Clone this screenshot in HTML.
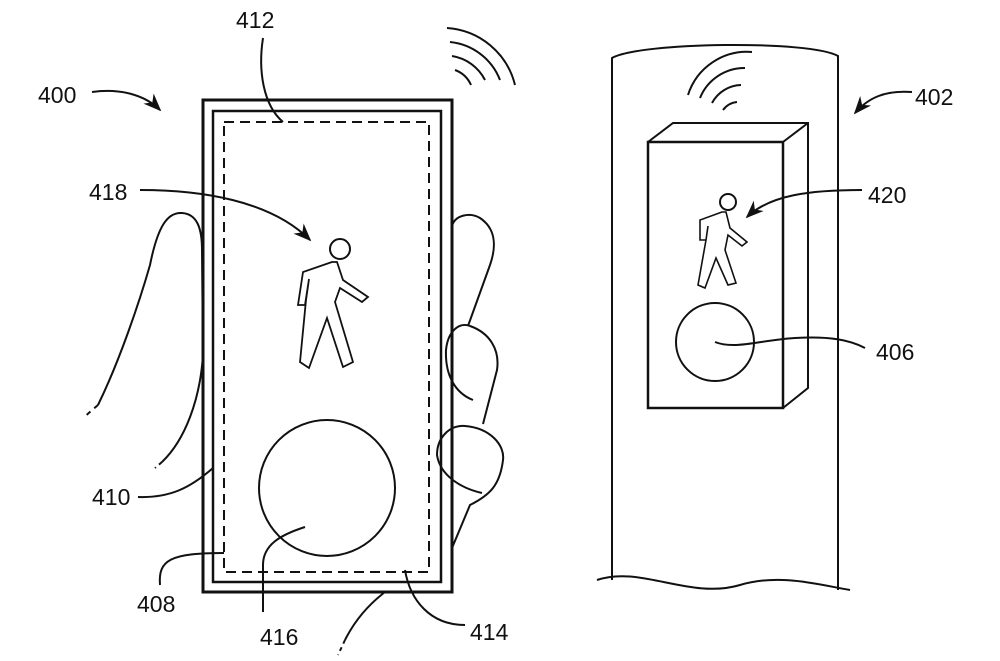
<!DOCTYPE html>
<html><head><style>html,body{margin:0;padding:0;background:#fff}svg{display:block}text{font-family:"Liberation Sans",sans-serif;font-size:23px;fill:#111}</style></head>
<body>
<svg width="1000" height="661" viewBox="0 0 1000 661" xmlns="http://www.w3.org/2000/svg">
<defs><marker id="a" viewBox="0 0 10 10" refX="9" refY="5" markerWidth="9" markerHeight="9" orient="auto"><path d="M0,1 L10,5 L0,9 L3,5z" fill="#111"/></marker></defs>
<g fill="none" stroke="#111" stroke-width="2">
<path d="M98,405 C120,360 140,300 150,265 C158,225 168,212 182,213 C197,214 202,228 202,250 L203,355 C200,400 185,440 162,462"/>
<path d="M98,405 L83,418" stroke-dasharray="5,5"/>
<path d="M162,462 L155,468" stroke-dasharray="4,4"/>
<path d="M452,226 C455,215 470,212 480,218 C495,228 497,245 490,265 L468,326"/>
<path d="M473,400 C455,393 445,375 446,350 C448,330 460,322 470,326 C490,333 500,350 497,370 L483,424"/>
<path d="M482,493 C460,488 440,475 437,455 C437,437 450,425 465,426 C490,428 505,445 503,460 C500,485 490,495 470,505 L452,548"/>
<rect x="203" y="100" width="249" height="492" stroke-width="3"/>
<rect x="213" y="111" width="228" height="471" stroke-width="2.5"/>
<rect x="224" y="122" width="205" height="450" stroke-dasharray="10,6"/>
<circle cx="327" cy="488" r="68"/>
<circle cx="340" cy="249" r="10"/>
<path d="M332,262 L303,272 L298,305 L305,305 L309,279 L306,300 L300,362 L309,368 L327,318 L343,367 L353,362 L335,302 L340,288 L362,302 L368,297 L343,280 L337,262z" stroke-width="1.8"/>
<path d="M455,70 A28,28 0 0 1 471,85"/>
<path d="M452,56 A45,45 0 0 1 485,80"/>
<path d="M450,42 A60,60 0 0 1 500,80"/>
<path d="M447,28 A75,75 0 0 1 515,85"/>
<path d="M92,92 C120,88 145,95 160,110" marker-end="url(#a)"/>
<path d="M263,38 C258,70 263,105 283,122"/>
<path d="M140,190 C200,190 270,200 310,240" marker-end="url(#a)"/>
<path d="M138,497 C170,498 190,488 213,468"/>
<path d="M160,585 C158,560 170,553 224,553"/>
<path d="M263,612 L263,565 C263,545 280,535 305,527"/>
<path d="M465,625 C430,625 410,600 405,570"/>
<path d="M385,592 C368,605 355,620 345,640"/>
<path d="M345,640 L338,655" stroke-dasharray="4,4"/>
<path d="M612,580 L612,58 C640,42 810,40 838,56 L838,590"/>
<path d="M597,580 C640,565 690,600 740,585 C780,573 820,585 850,590"/>
<rect x="648" y="142" width="135" height="266" stroke-width="2.5"/>
<path d="M648,142 L673,123 L808,123 L808,388 L783,408 M783,142 L808,123" stroke-width="2"/>
<circle cx="715" cy="342" r="39"/>
<circle cx="728" cy="202" r="8"/>
<path d="M722,212 L700,220 L700,240 L706,240 L708,226 L706,240 L698,285 L705,288 L716,258 L728,285 L736,283 L725,250 L728,235 L742,246 L747,242 L730,228 L726,212z" stroke-width="1.6"/>
<path d="M723,110 A20,20 0 0 1 737,102"/>
<path d="M712,103 A34,34 0 0 1 741,85"/>
<path d="M700,98 A48,48 0 0 1 745,68"/>
<path d="M688,95 A62,62 0 0 1 752,52"/>
<path d="M912,92 C885,90 868,98 855,113" marker-end="url(#a)"/>
<path d="M862,190 C810,190 770,195 747,217" marker-end="url(#a)"/>
<path d="M715,342 C735,350 760,340 795,338 C830,336 850,340 865,348"/>
</g>
<text x="38" y="103">400</text>
<text x="236" y="28">412</text>
<text x="89" y="200">418</text>
<text x="92" y="505">410</text>
<text x="137" y="612">408</text>
<text x="260" y="645">416</text>
<text x="470" y="640">414</text>
<text x="915" y="105">402</text>
<text x="868" y="203">420</text>
<text x="876" y="360">406</text>
</svg>
</body></html>
